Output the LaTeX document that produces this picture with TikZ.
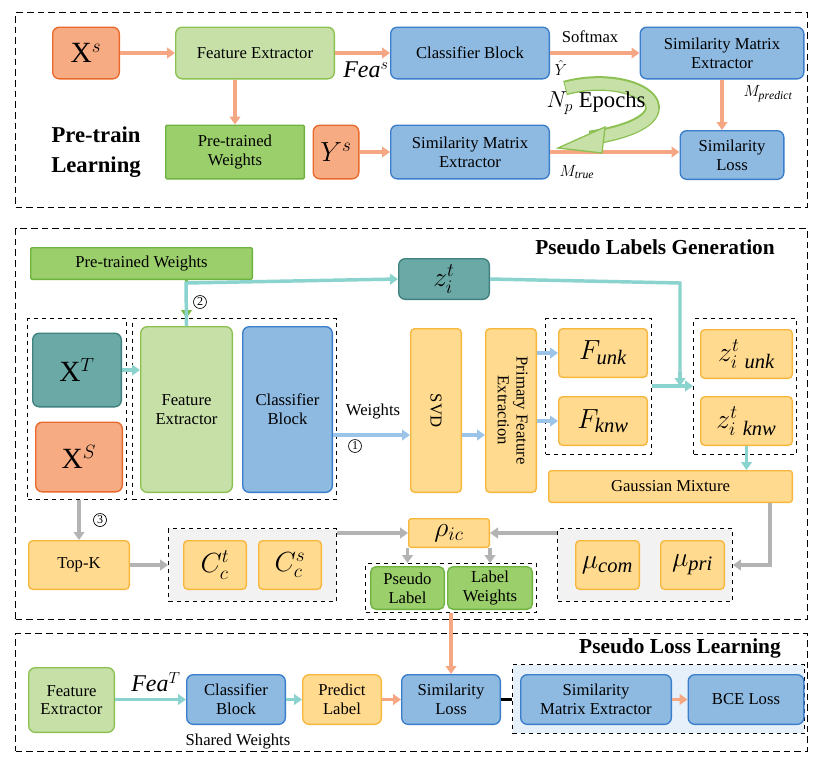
\documentclass[tikz,border=0pt]{standalone}
\usepackage{fontspec}
\setmainfont{Liberation Serif}
\usetikzlibrary{arrows.meta}
\definecolor{orF}{HTML}{F7AB82}\definecolor{orD}{HTML}{E8692B}
\definecolor{lgF}{HTML}{C6E0A8}\definecolor{lgD}{HTML}{8CC152}
\definecolor{gF}{HTML}{9BCF6C}\definecolor{gD}{HTML}{6DB33F}
\definecolor{bF}{HTML}{8EBAE2}\definecolor{bD}{HTML}{3A7DCA}
\definecolor{tF}{HTML}{6BA9A7}\definecolor{tD}{HTML}{3F817E}
\definecolor{yF}{HTML}{FFDA8F}\definecolor{yD}{HTML}{F6B73C}
\definecolor{aO}{HTML}{F5A683}\definecolor{aT}{HTML}{8AD3CE}
\definecolor{aB}{HTML}{9CC4E8}\definecolor{aG}{HTML}{B3B3B3}
\definecolor{grpF}{HTML}{F2F2F2}\definecolor{grpB}{HTML}{E6F0FA}
\begin{document}
\begin{tikzpicture}[x=0.75pt,y=-0.75pt,
  sz/.style 2 args={minimum width=#1*0.75pt-1pt,minimum height=#2*0.75pt-1pt,inner sep=1pt},
  box/.style={draw,rounded corners=5pt,line width=1pt,align=center,font=\fontsize{12.5}{14}\selectfont},
  org/.style={box,fill=orF,draw=orD},
  lg/.style={box,fill=lgF,draw=lgD},
  gr/.style={box,fill=gF,draw=gD,rounded corners=1pt},
  bl/.style={box,fill=bF,draw=bD},
  tl/.style={box,fill=tF,draw=tD},
  yl/.style={box,fill=yF,draw=yD},
  big/.style={font=\fontsize{22}{24}\selectfont},
  grp/.style={draw,dashed,line width=0.9pt},
  pan/.style={draw,dashed,line width=1pt,dash pattern=on 5pt off 3pt},
  ar/.style={line width=2.6pt,-{Triangle[length=6pt,width=8pt]}},
  lab/.style={font=\fontsize{12.5}{14}\selectfont},
  circ/.style={circle,draw,line width=0.5pt,inner sep=0.8pt,font=\fontsize{9}{10}\selectfont},
  ttl/.style={font=\fontsize{16}{18}\selectfont\bfseries}]
\fill[white] (0,0) rectangle (820,769);
% ---------- top panel
\node[pan,sz={793}{196}] (P1) at (411.5,110) {};
\node[org,sz={68}{53},big] (xs1) at (86,53) {X$^{s}$};
\node[lg,sz={160}{53}] (fe1) at (255,53) {Feature Extractor};
\node[bl,sz={160}{53}] (cb1) at (470,53) {Classifier Block};
\node[bl,sz={165}{53}] (sm1) at (722,53) {Similarity Matrix\\Extractor};
\node[gr,sz={140}{55}] (pw1) at (235,152) {Pre-trained\\Weights};
\node[org,sz={47}{55},big] (ys) at (336,152) {$Y^{s}$};
\node[bl,sz={160}{55}] (sm2) at (470,152) {Similarity Matrix\\Extractor};
\node[bl,sz={105}{50}] (sl1) at (732,155) {Similarity\\Loss};
\node[ttl,align=center,font=\fontsize{17}{22}\selectfont\bfseries] (ptl) at (96,152) {Pre-train\\Learning};
\draw[ar,aO] (xs1) -- (fe1);
\draw[ar,aO] (fe1) -- (cb1);
\draw[ar,aO] (cb1) -- (sm1);
\draw[ar,aO] (fe1.south-|pw1) -- (pw1.north);
\draw[ar,aO] (ys) -- (sm2);
\draw[ar,aO] (sm2.east) -- (sm2.east-|sl1.west);
\draw[ar,aO] (722,80) -- (722,130);
\node[lab,font=\fontsize{18}{20}\selectfont\itshape] (feas) at (366,70) {Fea$^{s}$};
\node[lab] (smx) at (590,37) {Softmax};
\node[lab] (yh) at (561,68) {$\hat{Y}$};
\node[lab] (mp) at (768,94) {$M_{\mathit{predict}}$};
\node[lab] (mt) at (577,172) {$M_{\mathit{true}}$};
% epochs arrow
\draw[line width=11pt,lgD] (565,88) .. controls (640,68) and (705,120) .. (590,138);
\draw[line width=8.5pt,lgF] (566,88) .. controls (640,69) and (704,120) .. (592,138);
\fill[lgF,draw=lgD,line width=1pt] (605,127) -- (558,148) -- (602,153) -- cycle;
\node[font=\fontsize{17}{19}\selectfont] (np) at (596,103) {$N_p$ Epochs};
% ---------- middle panel
\node[pan,sz={793}{392}] (P2) at (411.5,424) {};
\node[ttl] (plg) at (655,247) {Pseudo Labels Generation};
\node[gr,sz={223}{33}] (pw2) at (141.5,263.5) {Pre-trained Weights};
\node[grp,sz={100}{182}] (g1) at (77,409) {};
\node[grp,sz={205}{182}] (g2) at (234.5,409) {};
\node[tl,sz={90}{75},big] (xt) at (77,370) {X$^{T}$};
\node[org,sz={88}{71},big] (xs2) at (79,457) {X$^{S}$};
\node[lg,sz={93}{167}] (fe2) at (186.5,409.5) {Feature\\Extractor};
\node[bl,sz={91}{167}] (cb2) at (287.5,409.5) {Classifier\\Block};
\node[tl,sz={92}{42},big] (z) at (444,279) {$z_i^{t}$};
\node[yl,sz={52}{165},rounded corners=3pt] (svd) at (436,410.5) {\rotatebox{-90}{SVD}};
\node[yl,sz={52}{165},rounded corners=3pt] (pfe) at (511,410.5) {\rotatebox{-90}{\begin{tabular}{c}Primary Feature\\Extraction\end{tabular}}};
\node[grp,sz={107}{137}] (gf) at (598.5,386.5) {};
\node[grp,sz={104}{137}] (gz) at (745,386.5) {};
\node[yl,sz={90}{50},big,rounded corners=3pt] (fu) at (603,353) {$F_{\mathit{unk}}$};
\node[yl,sz={90}{50},big,rounded corners=3pt] (fk) at (603,421) {$F_{\mathit{knw}}$};
\node[yl,sz={93}{50},big,rounded corners=3pt] (zu) at (746.5,354) {$z^{t}_{i\ \mathit{unk}}$};
\node[yl,sz={93}{50},big,rounded corners=3pt] (zk) at (746.5,421) {$z^{t}_{i\ \mathit{knw}}$};
\node[yl,sz={245}{33},rounded corners=2pt] (gm) at (670.5,486.5) {Gaussian Mixture};
\node[yl,sz={102}{50},rounded corners=3pt] (tk) at (79,565) {Top-K};
\node[grp,fill=grpF,sz={169}{74}] (gc) at (252.5,565) {};
\node[yl,sz={64}{50},big,rounded corners=3pt] (ct) at (215,565) {$C_c^{t}$};
\node[yl,sz={64}{50},big,rounded corners=3pt] (cs) at (290,565) {$C_c^{s}$};
\node[yl,sz={82}{30},big,rounded corners=2pt] (rho) at (449,533) {$\rho_{ic}$};
\node[grp,fill=grpF,sz={176}{74}] (gmu) at (645,565) {};
\node[yl,sz={65}{50},big,rounded corners=3pt] (mc) at (607.5,565) {$\mu_{\mathit{com}}$};
\node[yl,sz={65}{50},big,rounded corners=3pt] (mpr) at (692.5,565) {$\mu_{\mathit{pri}}$};
\node[grp,sz={172}{50}] (gpl) at (451,588) {};
\node[gr,sz={75}{44},rounded corners=4pt] (pl) at (407.5,588) {Pseudo\\Label};
\node[gr,sz={86}{44},rounded corners=4pt] (lw) at (490,588) {Label\\Weights};
% middle arrows
\draw[ar,gD!60!lgD] (pw2.south-|fe2) -- (g2.north-|fe2);
\draw[ar,aT] (xt.east) -- (fe2.west|-xt.east);
\draw[ar,aT] (fe2.north) -- (186,283) -- (z.west);
\draw[line width=2.6pt,aT] (z.east) -- (680,283) -- (680,374);
\draw[ar,aT] (680,372) -- (680,386);
\draw[ar,aT] (gf.east|-0,386) -- (gz.west|-0,386);
\draw[ar,aB] (cb2.east|-0,435) -- (svd.west|-0,435);
\node[lab] (wts) at (373,412) {Weights};
\node[circ] (c1) at (355,446) {1};
\node[circ] (c2) at (200,302) {2};
\node[circ] (c3) at (100,520) {3};
\draw[ar,aB] (svd.east|-0,435) -- (pfe.west|-0,435);
\draw[ar,aB] (pfe.east|-fu) -- (fu.west);
\draw[ar,aB] (pfe.east|-fk) -- (fk.west);
\draw[ar,aT] (zk.south) -- (gm.north-|zk);
\draw[ar,aG] (g1.south-|tk) -- (tk.north);
\draw[ar,aG] (tk) -- (gc.west|-tk);
\draw[ar,aG] (gc.north east|-rho) -- (rho.west);
\draw[ar,aG] (gmu.north west|-rho) -- (rho.east);
\draw[ar,aG] (gm.south-|770,0) -- (770,565) -- (gmu.east|-0,565);
\draw[ar,aG] (rho.south-|pl) -- (gpl.north-|pl);
\draw[ar,aG] (rho.south-|lw) -- (gpl.north-|lw);
% ---------- bottom panel
\node[pan,sz={793}{119}] (P3) at (411.5,692.5) {};
\node[ttl] (pll) at (680,648) {Pseudo Loss Learning};
\node[grp,fill=grpB,sz={293}{70}] (gb) at (658.5,699) {};
\node[lg,sz={87}{66}] (fe3) at (71.5,700) {Feature\\Extractor};
\node[bl,sz={100}{51}] (cb3) at (236,699.5) {Classifier\\Block};
\node[yl,sz={80}{51}] (pr) at (342,699.5) {Predict\\Label};
\node[bl,sz={100}{51}] (sl3) at (451,699.5) {Similarity\\Loss};
\node[bl,sz={152}{51}] (sm3) at (596,699.5) {Similarity\\Matrix Extractor};
\node[bl,sz={117}{51}] (bce) at (746,699.5) {BCE Loss};
\node[lab,font=\fontsize{18}{20}\selectfont\itshape] (feat) at (156,682) {Fea$^{T}$};
\node[lab] (shw) at (238,741) {Shared Weights};
\draw[ar,aT] (fe3.east|-cb3) -- (cb3.west);
\draw[ar,aT] (cb3) -- (pr);
\draw[ar,aO] (pr) -- (sl3);
\draw[ar,aO] (sm3) -- (bce);
\draw[line width=2pt] (sl3.east) -- (gb.west|-sl3);
\draw[ar,aO] (gpl.south-|sl3) -- (sl3.north);
\end{tikzpicture}
\end{document}
